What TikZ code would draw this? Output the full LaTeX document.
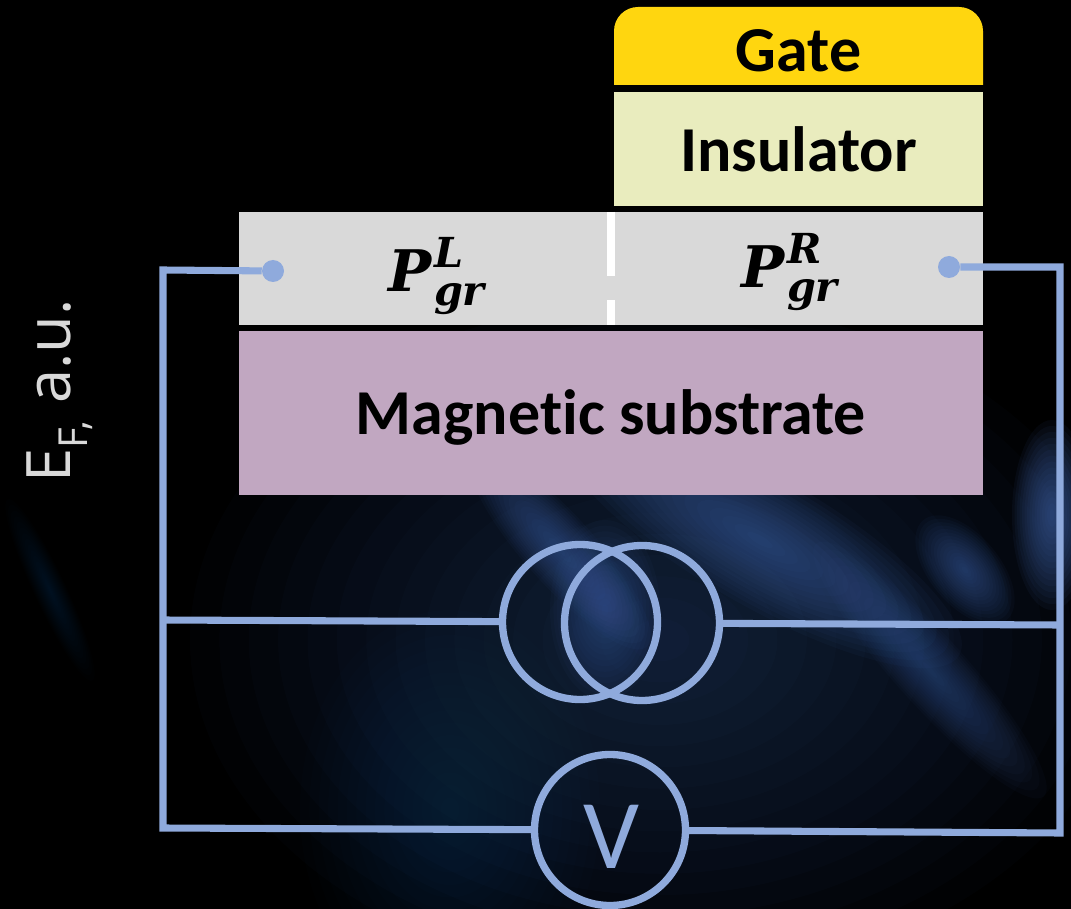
\documentclass[tikz,border=0pt]{standalone}
\usepackage{fontspec}
\setmainfont{Open Sans}
\setsansfont[Ligatures=NoCommon]{Carlito}
\newfontfamily\grfont{DejaVu Serif}
\usetikzlibrary{positioning,calc}
\definecolor{wirecol}{HTML}{8FAADC}
\definecolor{gatecol}{HTML}{FFD60F}
\definecolor{inscol}{HTML}{E9ECBE}
\definecolor{grcol}{HTML}{D9D9D9}
\definecolor{subcol}{HTML}{C1A7C1}
\definecolor{hazecol}{HTML}{3F62A6}
\newcommand{\grlabel}[1]{\grfont\bfseries\itshape\fontsize{43}{43}\selectfont P\kern2pt\fontsize{31}{31}\selectfont\rlap{\raisebox{18pt}{#1}}\raisebox{-10pt}{gr}}
% soft patch: x, y, x radius, y radius, angle, strength
\newcommand{\hazeblob}[6]{
    \pgfmathsetmacro{\hazeop}{#6/16}
    \foreach \k in {1,...,16}{
      \fill[hazecol, opacity=\hazeop, rotate around={#5:(#1,#2)}] (#1,#2) ellipse [x radius=#3*\k/16, y radius=#4*\k/16];
    }
}
\tikzset{
    %Define style for layers
    layer/.style={
      rectangle,
      inner sep=0pt,
      font=\sffamily\bfseries\fontsize{48}{48}\selectfont,
      text=black},
    % Define wire style
    wire/.style={
      draw=wirecol,
      line width=5.3pt},
    % Define contact dot
    contact/.style={
      circle,
      fill=wirecol,
      inner sep=0pt,
      minimum size=16.5pt},
    % Define circle of a source
    ring/.style={
      circle,
      draw=wirecol,
      line width=5.5pt,
      inner sep=0pt}
}

\begin{document}
\begin{tikzpicture}[x=0.75pt,y=-0.75pt]
    \useasboundingbox (0,0) rectangle (1071,909);
    \fill[black] (0,0) rectangle (1071,909);

    % background haze
    \hazeblob{660}{640}{470}{340}{0}{0.45}
    \hazeblob{450}{810}{150}{200}{0}{0.25}
    \hazeblob{760}{540}{230}{65}{-30}{0.9}
    \hazeblob{930}{670}{170}{35}{-48}{0.6}
    \hazeblob{560}{550}{130}{35}{-48}{0.8}
    \hazeblob{605}{610}{55}{90}{0}{0.7}
    \hazeblob{965}{570}{65}{35}{-50}{0.8}
    \hazeblob{1052}{515}{40}{95}{0}{1.1}
    \hazeblob{50}{590}{100}{16}{-65}{0.25}

    % layers
    \fill[gatecol, rounded corners=18pt] (614,85) [sharp corners] -- (614,85) [rounded corners=18pt] -- (614,7) -- (983,7) [sharp corners] -- (983,85) -- cycle;
    \node[layer] (gate) at (798.5,51) {Gate};
    \node[layer, fill=inscol, minimum width=369*0.75pt, minimum height=114*0.75pt] (insulator) at (798.5,149) {Insulator};
    \node[layer, fill=grcol, minimum width=744*0.75pt, minimum height=113*0.75pt] (graphene) at (611,268.5) {};
    \node[layer, fill=subcol, minimum width=744*0.75pt, minimum height=163*0.75pt] (substrate) at (611,413) {\raisebox{-3pt}[\height][\depth]{Magnetic substrate}};
    \node[inner sep=0pt, anchor=base west] (pl) at (388,292) {\grlabel{L}};
    \node[inner sep=0pt, anchor=base west] (pr) at (741,288) {\grlabel{R}};

    % break in the graphene
    \coordinate (brk1) at (611,212);
    \coordinate (brk2) at (611,276);
    \coordinate (brk3) at (611,300);
    \coordinate (brk4) at (611,325);
    \draw[white, line width=6pt] (brk1) -- (brk2) (brk3) -- (brk4);

    % axis text
    \node[rotate=90, anchor=base, text=grcol, font=\fontsize{46}{46}\selectfont, inner sep=0pt] (ef) at (70,391) {E$_{\mbox{\fontsize{30}{30}\selectfont F,}}$ a.u.};

    % contacts
    \node[contact] (cl) at (273,271) {};
    \node[contact] (cr) at (949,267) {};

    % sources
    \node[ring, minimum size=155*0.75pt] (src1) at (580,622) {};
    \node[ring, minimum size=155*0.75pt] (src2) at (642,623) {};
    \node[ring, minimum size=151*0.75pt] (volt) at (610,830) {};
    \node[text=wirecol, font=\sffamily\fontsize{74}{74}\selectfont, inner sep=0pt] (vtext) at (611,837) {V};

    % wires
    \coordinate (tl) at (163,270);
    \coordinate (tr) at (1060,267);
    \coordinate (ml) at (163,620);
    \coordinate (mr) at (1060,625);
    \coordinate (bl) at (163,828);
    \coordinate (br) at (1060,833);
    \draw[wire] (cl) -- (tl) -- (bl) -- (volt);
    \draw[wire] (cr) -- (tr) -- (br) -- (volt);
    \draw[wire] (ml) -- (src1);
    \draw[wire] (mr) -- (src2);
\end{tikzpicture}
\end{document}
